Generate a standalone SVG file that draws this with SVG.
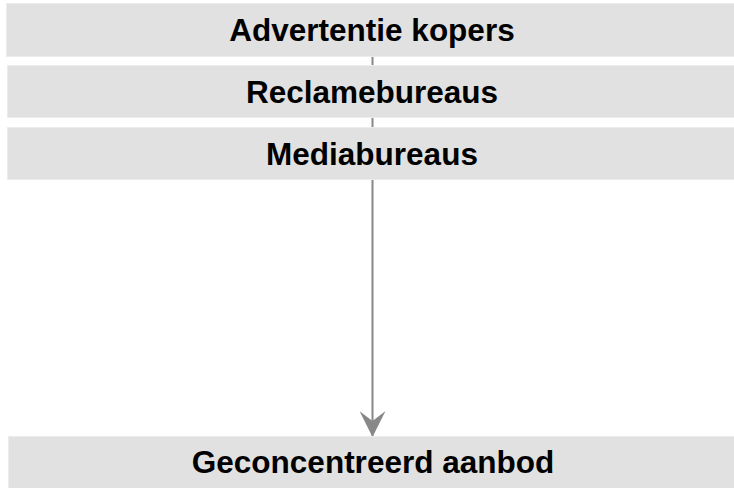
<svg xmlns="http://www.w3.org/2000/svg" width="734" height="488" viewBox="0 0 734 488">
<defs>
<style>
.box{fill:#e1e1e1;stroke:#ececec;stroke-width:1}
.lbl{font-family:"Liberation Sans",Arial,sans-serif;font-weight:bold;font-size:31.5px;fill:#000;text-anchor:middle}
.conn{stroke:#888888;stroke-width:2;fill:none}
</style>
<marker id="arr" viewBox="0 0 26 26" refX="26" refY="13" markerWidth="26" markerHeight="26" markerUnits="userSpaceOnUse" orient="auto">
<path d="M0,0 L26,13 L0,26 L10,13 Z" fill="#888888"/>
</marker>
</defs>
<rect width="734" height="488" fill="#ffffff"/>
<g id="connectors">
<line class="conn" x1="372.5" y1="57" x2="372.5" y2="437" marker-end="url(#arr)"/>
</g>
<g id="node-advertentie">
<rect class="box" x="6.5" y="3.5" width="740" height="53"/>
<text class="lbl" x="372" y="41">Advertentie kopers</text>
</g>
<g id="node-reclame">
<rect class="box" x="7.5" y="65.5" width="740" height="52"/>
<text class="lbl" x="372" y="103">Reclamebureaus</text>
</g>
<g id="node-media">
<rect class="box" x="7.5" y="127.5" width="740" height="52"/>
<text class="lbl" x="372" y="165">Mediabureaus</text>
</g>
<g id="node-aanbod">
<rect class="box" x="8.5" y="436.5" width="740" height="60"/>
<text class="lbl" x="373" y="473">Geconcentreerd aanbod</text>
</g>
</svg>
